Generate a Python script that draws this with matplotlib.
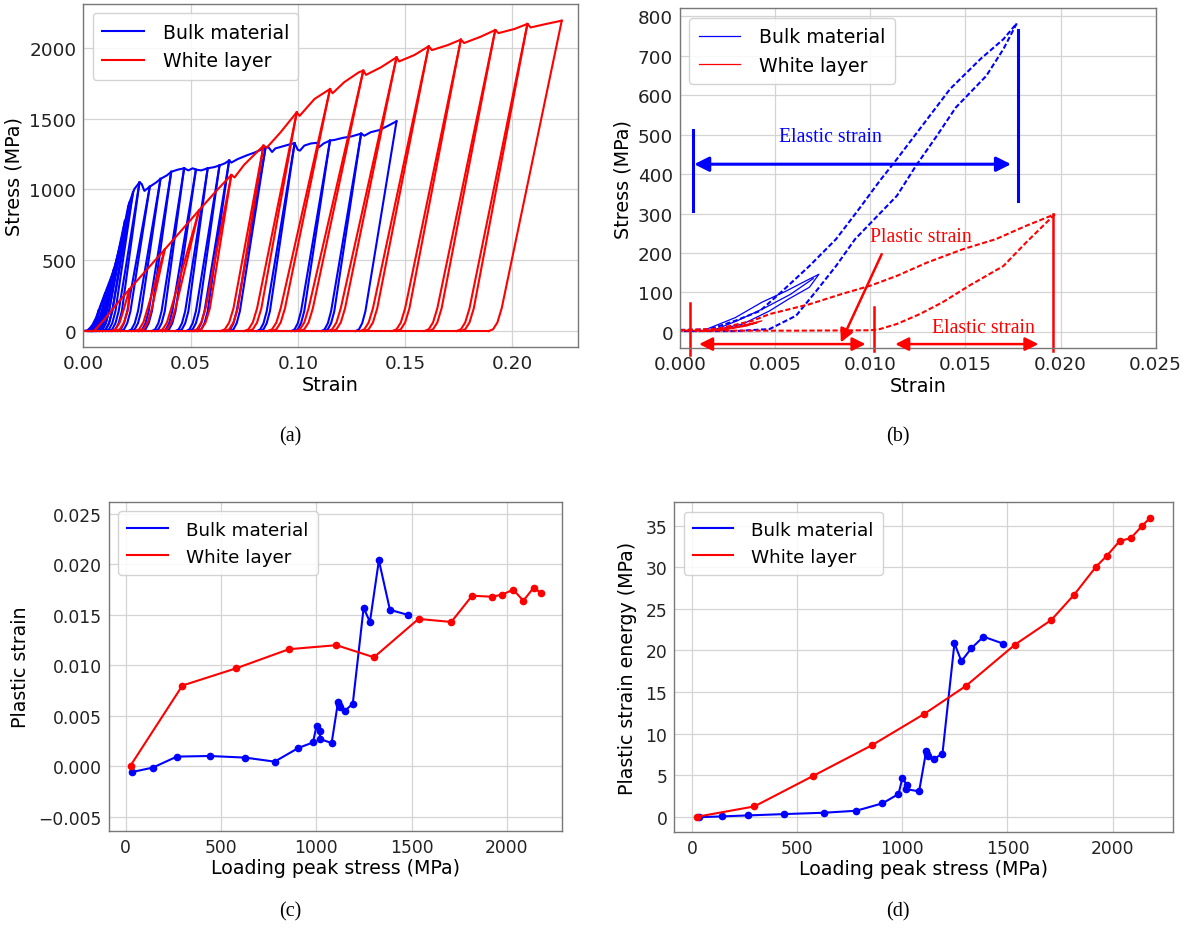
import matplotlib
matplotlib.use('Agg')
import matplotlib.pyplot as plt

# ---------------- (a) cyclic stress-strain curves ----------------
blue_env_strain = [0.000, 0.002, 0.004, 0.006, 0.008, 0.011, 0.014, 0.016, 0.018, 0.021, 0.0238, 0.0262,
                   0.0272, 0.0285, 0.031, 0.034, 0.036, 0.039, 0.041, 0.044, 0.047, 0.049, 0.051, 0.0525,
                   0.055, 0.058, 0.061, 0.0635, 0.066, 0.068, 0.069, 0.072, 0.076, 0.080, 0.083, 0.085,
                   0.0865, 0.088, 0.0895, 0.093, 0.096, 0.0985, 0.100, 0.101, 0.103, 0.106, 0.109, 0.110,
                   0.112, 0.115, 0.117, 0.121, 0.125, 0.1295, 0.131, 0.134, 0.138, 0.142, 0.146]
blue_env_stress = [0, 5, 35, 95, 180, 300, 420, 530, 655, 886, 1003, 1050,
                   1040, 990, 1020, 1050, 1075, 1100, 1125, 1140, 1150, 1135, 1150, 1140,
                   1135, 1150, 1158, 1170, 1185, 1205, 1190, 1215, 1240, 1262, 1282, 1300,
                   1295, 1265, 1290, 1305, 1318, 1327, 1280, 1275, 1310, 1325, 1330, 1300,
                   1325, 1346, 1350, 1365, 1375, 1395, 1380, 1405, 1420, 1450, 1482]
blue_peak_strain = [0.004, 0.0071, 0.0102, 0.0143, 0.0175, 0.0194, 0.0215, 0.0232, 0.0262,
                    0.031, 0.036, 0.041, 0.047, 0.0525, 0.058, 0.0635, 0.068,
                    0.085, 0.0985, 0.115, 0.1295, 0.146]
blue_peak_stress = [35, 142, 266, 439, 625, 779, 905, 981, 1050,
                    1020, 1075, 1125, 1150, 1140, 1150, 1170, 1205,
                    1300, 1327, 1346, 1395, 1482]
blue_zero_strain = [0.002, 0.0025, 0.003, 0.004, 0.005, 0.006, 0.0075, 0.009, 0.012,
                    0.016, 0.021, 0.026, 0.032, 0.037, 0.043, 0.048, 0.052,
                    0.067, 0.081, 0.097, 0.111, 0.127]

red_env_strain = [0.000, 0.005, 0.010, 0.015, 0.0215, 0.030, 0.038, 0.046, 0.054, 0.062, 0.069, 0.0705,
                  0.075, 0.080, 0.084, 0.0855, 0.092, 0.0995, 0.1008, 0.1078, 0.115, 0.1162, 0.1216,
                  0.1284, 0.1305, 0.1318, 0.1388, 0.146, 0.1472, 0.1543, 0.161, 0.1625, 0.1698, 0.176,
                  0.1775, 0.1853, 0.192, 0.1935, 0.2009, 0.207, 0.2085, 0.2164, 0.223]
red_env_stress = [0, 0, 85, 180, 295, 440, 577, 715, 854, 990, 1103, 1085,
                  1175, 1250, 1310, 1295, 1405, 1546, 1520, 1640, 1710, 1680, 1758,
                  1828, 1840, 1810, 1864, 1934, 1905, 1950, 2012, 1985, 2020, 2059,
                  2035, 2080, 2127, 2105, 2134, 2170, 2145, 2172, 2193]
red_peak_strain = [0.0215, 0.038, 0.054, 0.069, 0.084, 0.0995, 0.115, 0.1305, 0.146, 0.161,
                   0.176, 0.192, 0.207, 0.223]
red_peak_stress = [295, 577, 854, 1103, 1310, 1546, 1710, 1840, 1934, 2012, 2059, 2127, 2170, 2193]
red_zero_strain = [0.013, 0.024, 0.035, 0.051, 0.064, 0.075, 0.086, 0.099, 0.114, 0.129,
                   0.144, 0.159, 0.174, 0.189]

# ---------------- (b) single loops ----------------
b_blue_load_strain = [0.0000, 0.0015, 0.0029, 0.0042, 0.0053, 0.0068, 0.0082, 0.0094, 0.0105, 0.0114,
                      0.0128, 0.0142, 0.0158, 0.0170, 0.0177]
b_blue_load_stress = [5, 6, 28, 53, 100, 167, 235, 311, 383, 438, 527, 616, 692, 742, 782]
b_blue_unload_strain = [0.0177, 0.0170, 0.0161, 0.0145, 0.0135, 0.0124, 0.0114, 0.0104, 0.0092, 0.0082,
                        0.0071, 0.0061, 0.0047, 0.0029, 0.0000]
b_blue_unload_stress = [782, 717, 649, 569, 497, 421, 345, 295, 235, 167, 100, 41, 7, 2, 2]
b_red_load_strain = [0.0000, 0.0020, 0.0038, 0.0047, 0.0068, 0.0085, 0.0100, 0.0114, 0.0130, 0.0149,
                     0.0166, 0.0182, 0.0197]
b_red_load_stress = [4, 8, 28, 45, 70, 96, 117, 142, 176, 210, 235, 269, 298]
b_red_unload_strain = [0.0197, 0.0182, 0.0170, 0.0152, 0.0138, 0.0126, 0.0114, 0.0105, 0.0100, 0.0060,
                       0.0000]
b_red_unload_stress = [298, 227, 167, 117, 75, 45, 20, 7, 4, 3, 3]
b_blue_small_strain = [0.0012, 0.0029, 0.0043, 0.0056, 0.0066, 0.0073, 0.0068, 0.0057, 0.0047, 0.0033,
                       0.0017, 0.0030, 0.0045, 0.0058, 0.0070]
b_blue_small_stress = [3, 36, 75, 104, 129, 146, 113, 83, 53, 20, 3, 28, 62, 95, 135]
b_red_small_strain = [0.0012, 0.0029, 0.0043, 0.0035, 0.0022, 0.0010, 0.0026, 0.0040]
b_red_small_stress = [2, 12, 28, 15, 4, 1, 9, 22]

# ---------------- (c) / (d) ----------------
blue_load_peak = [35, 142, 268, 440, 627, 781, 906, 982, 1001, 1021, 1017, 1080, 1114, 1117, 1123,
                  1150, 1191, 1248, 1281, 1328, 1386, 1481]
blue_plastic_strain = [-0.00056, -0.00013, 0.00096, 0.00102, 0.00086, 0.00046, 0.00182, 0.00236,
                       0.00400, 0.00350, 0.00272, 0.00230, 0.00640, 0.00610, 0.00590, 0.00550,
                       0.00620, 0.01570, 0.01430, 0.02040, 0.01550, 0.01500]
blue_energy = [-0.05, 0.04, 0.16, 0.32, 0.48, 0.72, 1.61, 2.73, 4.69, 3.81, 3.33, 3.05, 7.94, 7.54,
               7.30, 6.94, 7.58, 20.85, 18.70, 20.25, 21.65, 20.80]
red_load_peak = [25, 297, 578, 856, 1105, 1302, 1536, 1708, 1817, 1921, 1973, 2033, 2086, 2140, 2176]
red_plastic_strain = [0.00007, 0.0080, 0.0097, 0.0116, 0.0120, 0.0108, 0.0146, 0.0143, 0.0169, 0.0168,
                      0.0170, 0.0175, 0.0164, 0.0177, 0.0172]
red_energy = [0.0, 1.24, 4.93, 8.60, 12.37, 15.72, 20.70, 23.65, 26.70, 30.07, 31.40, 33.15, 33.50,
              34.97, 35.90]

BLUE = '#0000ff'
RED = '#ff0000'
SERIF = ['Liberation Serif', 'DejaVu Serif']

fig = plt.figure(figsize=(11.86, 9.37), dpi=100)


def style(ax, tick_fs):
    ax.set_facecolor('white')
    ax.grid(True, color='#d4d4d4', lw=0.9)
    ax.set_axisbelow(True)
    for s in ax.spines.values():
        s.set_color('#777777')
        s.set_linewidth(1.0)
    ax.tick_params(length=0, pad=5, labelsize=tick_fs, colors='#222222')


def legend(ax, fs):
    lg = ax.legend(loc='upper left', fontsize=fs, handlelength=2.2, frameon=True, fancybox=True,
                   framealpha=0.85, edgecolor='#cccccc', borderpad=0.5, handletextpad=1.0)
    return lg


# toe shape offsets near zero stress for drawn loops
BLUE_TOE_E = [0.0, 0.0015, 0.003, 0.0045]
BLUE_TOE_S = [0, 12, 55, 140]
RED_TOE_E = [0.0, 0.002, 0.004, 0.006]
RED_TOE_S = [0, 12, 60, 160]


def branch(z, pe, ps, toe_e, toe_s):
    xs = [z + d for d, s in zip(toe_e, toe_s) if s < ps * 0.8] + [pe]
    ys = [s for s in toe_s if s < ps * 0.8] + [ps]
    return xs, ys


def draw_cycles(ax, env_e, env_s, pk_e, pk_s, zr_e, toe_e, toe_s, gap, color, label):
    ax.plot(env_e, env_s, color=color, lw=1.5, label=label)
    ax.plot([0, max(zr_e)], [0, 0], color=color, lw=1.5)
    n = len(pk_e)
    for i in range(n):
        x1, y1 = branch(zr_e[i], pk_e[i], pk_s[i], toe_e, toe_s)
        ax.plot(x1, y1, color=color, lw=1.5)
        if i < n - 1:
            x2, y2 = branch(zr_e[i] + gap, pk_e[i], pk_s[i], toe_e, toe_s)
            ax.plot(x2, y2, color=color, lw=1.5)


# ---------- panel (a)
axa = fig.add_axes([0.0702, 0.6286, 0.4172, 0.3661])
style(axa, 13.3)
draw_cycles(axa, blue_env_strain, blue_env_stress, blue_peak_strain, blue_peak_stress,
            blue_zero_strain, BLUE_TOE_E, BLUE_TOE_S, 0.0015, BLUE, 'Bulk material')
draw_cycles(axa, red_env_strain, red_env_stress, red_peak_strain, red_peak_stress,
            red_zero_strain, RED_TOE_E, RED_TOE_S, 0.002, RED, 'White layer')
axa.set_xlim(0, 0.2306)
axa.set_ylim(-113, 2311)
axa.set_xticks([0.0, 0.05, 0.10, 0.15, 0.20])
axa.set_xticklabels(['0.00', '0.05', '0.10', '0.15', '0.20'])
axa.set_yticks([0, 500, 1000, 1500, 2000])
axa.set_xlabel('Strain', fontsize=13.8, labelpad=2)
axa.set_ylabel('Stress (MPa)', fontsize=13.8, labelpad=4)
legend(axa, 13.6)

# ---------- panel (b)
axb = fig.add_axes([0.5734, 0.6275, 0.4010, 0.3625])
style(axb, 13.2)
axb.plot(b_blue_load_strain, b_blue_load_stress, color=BLUE, lw=1.5, dashes=(2.5, 1.2))
axb.plot(b_blue_unload_strain, b_blue_unload_stress, color=BLUE, lw=1.5, dashes=(2.5, 1.2))
axb.plot(b_blue_small_strain, b_blue_small_stress, color=BLUE, lw=0.9, label='Bulk material')
axb.plot(b_red_load_strain, b_red_load_stress, color=RED, lw=1.5, dashes=(2.5, 1.2))
axb.plot(b_red_unload_strain, b_red_unload_stress, color=RED, lw=1.5, dashes=(2.5, 1.2))
axb.plot(b_red_small_strain, b_red_small_stress, color=RED, lw=0.9, label='White layer')
axb.set_xlim(0, 0.025)
axb.set_ylim(-41, 820)
axb.set_xticks([0.0, 0.005, 0.010, 0.015, 0.020, 0.025])
axb.set_xticklabels(['0.000', '0.005', '0.010', '0.015', '0.020', '0.025'])
axb.set_yticks(range(0, 801, 100))
axb.set_xlabel('Strain', fontsize=13.8, labelpad=2)
axb.set_ylabel('Stress (MPa)', fontsize=13.8, labelpad=4)
legend(axb, 13.6)

# annotations in (b)
axb.plot([0.0007, 0.0007], [307, 512], color=BLUE, lw=2.2, clip_on=False)
axb.plot([0.01775, 0.01775], [332, 766], color=BLUE, lw=2.2, clip_on=False)
axb.annotate('', xy=(0.00074, 425), xytext=(0.0174, 425),
             arrowprops=dict(arrowstyle='<|-|>', color=BLUE, lw=2.2, mutation_scale=22,
                             shrinkA=0, shrinkB=0))
axb.text(0.0079, 496, 'Elastic strain', color=BLUE, fontsize=14.2, family=SERIF,
         ha='center', va='center')
axb.plot([0.00052, 0.00052], [73, -59], color=RED, lw=1.8, clip_on=False)
axb.plot([0.0102, 0.0102], [62, -48], color=RED, lw=1.8, clip_on=False)
axb.plot([0.0196, 0.0196], [298, -48], color=RED, lw=1.8, clip_on=False)
axb.annotate('', xy=(0.0010, -31), xytext=(0.00975, -31),
             arrowprops=dict(arrowstyle='<|-|>', color=RED, lw=1.8, mutation_scale=20,
                             shrinkA=0, shrinkB=0), annotation_clip=False)
axb.annotate('', xy=(0.01131, -31), xytext=(0.01884, -31),
             arrowprops=dict(arrowstyle='<|-|>', color=RED, lw=1.8, mutation_scale=20,
                             shrinkA=0, shrinkB=0), annotation_clip=False)
axb.annotate('', xy=(0.00845, -27), xytext=(0.0106, 197),
             arrowprops=dict(arrowstyle='-|>', color=RED, lw=1.8, mutation_scale=20,
                             shrinkA=0, shrinkB=0), annotation_clip=False)
axb.text(0.01265, 242, 'Plastic strain', color=RED, fontsize=14.2, family=SERIF,
         ha='center', va='center')
axb.text(0.01595, 11, 'Elastic strain', color=RED, fontsize=14.2, family=SERIF,
         ha='center', va='center')


def dotted_series(ax, x, y, color, label):
    ax.plot(x, y, color=color, lw=1.5, label=label)
    ax.plot(x, y, color=color, lw=0, marker='o', ms=4.5)


# ---------- panel (c)
axc = fig.add_axes([0.0919, 0.1124, 0.3820, 0.3505])
style(axc, 12.3)
dotted_series(axc, blue_load_peak, blue_plastic_strain, BLUE, 'Bulk material')
dotted_series(axc, red_load_peak, red_plastic_strain, RED, 'White layer')
axc.set_xlim(-88, 2289)
axc.set_ylim(-0.00638, 0.02616)
axc.set_xticks([0, 500, 1000, 1500, 2000])
axc.set_yticks([-0.005, 0.0, 0.005, 0.010, 0.015, 0.020, 0.025])
axc.set_yticklabels(['\u22120.005', '0.000', '0.005', '0.010', '0.015', '0.020', '0.025'])
axc.set_xlabel('Loading peak stress (MPa)', fontsize=13.7, labelpad=2)
axc.set_ylabel('Plastic strain', fontsize=13.7, labelpad=6)
legend(axc, 13.2)

# ---------- panel (d)
axd = fig.add_axes([0.5686, 0.1113, 0.4207, 0.3515])
style(axd, 12.3)
dotted_series(axd, blue_load_peak, blue_energy, BLUE, 'Bulk material')
dotted_series(axd, red_load_peak, red_energy, RED, 'White layer')
axd.set_xlim(-83, 2288)
axd.set_ylim(-1.8, 37.8)
axd.set_xticks([0, 500, 1000, 1500, 2000])
axd.set_yticks(range(0, 36, 5))
axd.set_xlabel('Loading peak stress (MPa)', fontsize=13.7, labelpad=2)
axd.set_ylabel('Plastic strain energy (MPa)', fontsize=13.7, labelpad=6)
legend(axd, 13.2)

# ---------- panel captions
for x, y, t in [(0.2445, 0.5336, '(a)'), (0.757, 0.5336, '(b)'),
                (0.2445, 0.0267, '(c)'), (0.757, 0.0267, '(d)')]:
    fig.text(x, y, t, fontsize=14.5, family=SERIF, ha='center', va='center')

fig.savefig('out.png', dpi=100, facecolor='white')
